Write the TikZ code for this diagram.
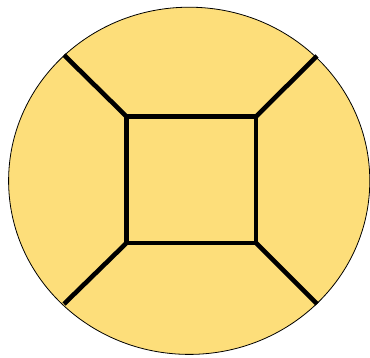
\documentclass[tikz,border=0pt]{standalone}
\definecolor{disc}{RGB}{253,222,122}
\begin{document}
\begin{tikzpicture}[x=1pt,y=-1pt,
  rim/.style={draw=black,line width=0.8pt,fill=disc},
  bar/.style={draw=black,line width=4.6pt}]
\useasboundingbox (0,0) rectangle (370,358);
\fill[disc,draw=black,line width=0.8pt] (189.2,180.8) ellipse [x radius=180.6pt, y radius=173.6pt];
\coordinate (tl) at (126.5,116.5);
\coordinate (tr) at (256,116.5);
\coordinate (br) at (256,243);
\coordinate (bl) at (126.5,243);
\coordinate (otl) at (64,55);
\coordinate (otr) at (317,56);
\coordinate (obl) at (64,304);
\coordinate (obr) at (317,304);
\draw[bar,line join=miter] (tl) -- (tr) -- (br) -- (bl) -- cycle;
\draw[bar] (tl) -- (otl);
\draw[bar] (tr) -- (otr);
\draw[bar] (bl) -- (obl);
\draw[bar] (br) -- (obr);
\end{tikzpicture}
\end{document}
